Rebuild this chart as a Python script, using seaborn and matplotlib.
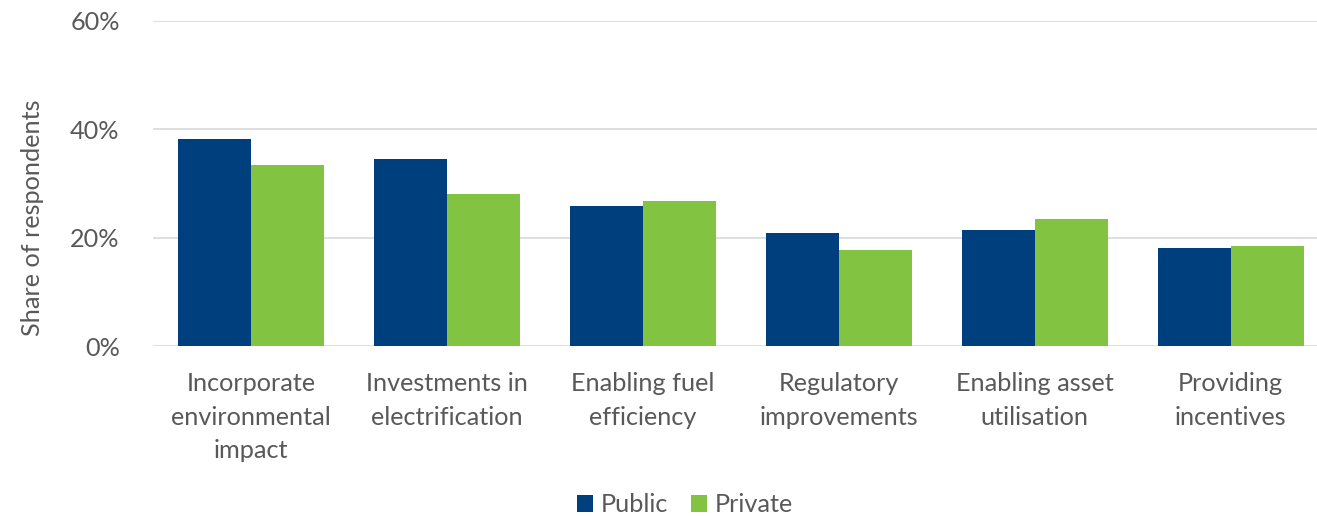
import matplotlib
matplotlib.use("Agg")
import matplotlib.pyplot as plt
import seaborn as sns
import pandas as pd
from matplotlib.ticker import FuncFormatter

categories = [
    "Incorporate\nenvironmental\nimpact",
    "Investments in\nelectrification",
    "Enabling fuel\nefficiency",
    "Regulatory\nimprovements",
    "Enabling asset\nutilisation",
    "Providing\nincentives",
]
public = [38.2, 34.6, 25.8, 20.8, 21.4, 18.1]
private = [33.4, 28.0, 26.7, 17.7, 23.4, 18.5]
series = ["Public", "Private"]
colors = ["#003F7D", "#82C341"]
y_ticks = [0, 20, 40, 60]

df = pd.DataFrame({
    "category": categories * 2,
    "value": public + private,
    "sector": ["Public"] * len(categories) + ["Private"] * len(categories),
})

sns.set_theme(style="white")
plt.rcParams["font.family"] = ["Lato", "DejaVu Sans"]
text_color = "#595959"
fs = 18.2

fig = plt.figure(figsize=(13.17, 5.16), dpi=100)
ax = fig.add_axes([153 / 1317, 1 - 346 / 516, 1 - 153 / 1317, (346 - 21) / 516])

sns.barplot(data=df, x="category", y="value", hue="sector", hue_order=series,
            palette=colors, width=0.745, saturation=1, linewidth=0,
            ax=ax, legend=True)

ax.set_ylim(0, 60)
ax.set_xlim(-0.5, 5.44)
ax.set_yticks(y_ticks)
ax.yaxis.set_major_formatter(FuncFormatter(lambda v, p: f"{v:.0f}%"))
ax.grid(axis="y", color="#D9D9D9", linewidth=1.2)
ax.set_axisbelow(True)
for s in ax.spines.values():
    s.set_visible(False)
ax.tick_params(axis="y", length=0, pad=24, labelsize=fs, labelcolor=text_color)
ax.tick_params(axis="x", length=0, pad=19, labelsize=fs, labelcolor=text_color)
for lbl in ax.get_xticklabels():
    lbl.set_linespacing(1.55)
ax.set_xlabel("")
ax.set_ylabel("Share of respondents", fontsize=fs, color=text_color)
ax.yaxis.set_label_coords(-0.094, 0.395)

handles, labels = ax.get_legend_handles_labels()
ax.legend_.remove()
fig.legend(handles, labels, loc="center", bbox_to_anchor=(0.52, 1 - 505 / 516),
           ncol=2, frameon=False, fontsize=fs, labelcolor=text_color,
           handlelength=0.65, handleheight=0.65, handletextpad=0.3, columnspacing=0.9)

fig.savefig("out.png", dpi=100)
